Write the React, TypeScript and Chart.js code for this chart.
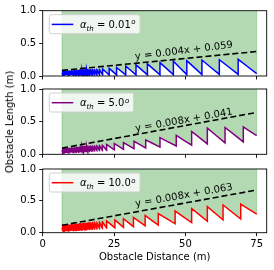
import React, { useEffect, useRef } from 'react';
import { Chart, registerables } from 'chart.js';
Chart.register(...registerables);

// ---- data ----
const xTicks = [0, 25, 50, 75];
const yTicks = [0, 0.5, 1];
const xRange = [0, 78.5];
const yRange = [0, 1];
const fillX = [6.8, 75];

const thresholds = ['0.01', '5.0', '10.0'];
const colors = ['#0000ff', '#800080', '#ff0000'];
const fitLabels = ['y = 0.004x + 0.059', 'y = 0.008x + 0.041', 'y = 0.008x + 0.063'];
const fitStart = [0.086, 0.095, 0.117];
const fitEnd = [0.375, 0.641, 0.67];
const labelX = [49.5, 49.5, 49.5];
const labelY = [0.383, 0.518, 0.582];
const labelAngle = [-7, -10, -10];

// distances where the minimum detectable length jumps (dense near the sensor)
const nearJumps = [
  7.0, 7.2, 7.4, 7.6, 7.8, 8.0, 8.2, 8.4, 8.6, 8.8, 9.0, 9.2, 9.4,
  9.6, 9.8, 10.0, 10.3, 10.6, 10.9, 11.2, 11.5, 11.8, 12.1, 12.4, 12.7, 13.0,
  13.4, 13.8, 14.2, 14.6, 15.0, 15.4, 15.8, 16.3, 16.9, 17.5, 18.2, 19.0, 19.9,
];

const jumps1 = [...nearJumps, 21.0, 23.3, 25.9, 29.1, 32.7, 36.7, 41.1, 45.8, 50.5, 55.8, 61.9, 68.5];
const lows1 = [
  0.012, 0.012, 0.012, 0.012, 0.012, 0.012, 0.012, 0.012, 0.012, 0.012, 0.012, 0.012, 0.012,
  0.012, 0.012, 0.012, 0.012, 0.012, 0.012, 0.012, 0.012, 0.012, 0.012, 0.012, 0.012, 0.012,
  0.012, 0.012, 0.012, 0.012, 0.012, 0.012, 0.012, 0.013, 0.013, 0.013, 0.013, 0.013, 0.013,
  0.014, 0.015, 0.016, 0.016, 0.017, 0.018, 0.019, 0.02, 0.021, 0.022, 0.024, 0.025,
];
const highs1 = [
  0.079, 0.079, 0.08, 0.08, 0.081, 0.081, 0.081, 0.082, 0.082, 0.083, 0.083, 0.083, 0.084,
  0.084, 0.085, 0.085, 0.086, 0.086, 0.087, 0.087, 0.088, 0.089, 0.089, 0.09, 0.09, 0.091,
  0.092, 0.093, 0.093, 0.094, 0.095, 0.096, 0.097, 0.098, 0.099, 0.1, 0.101, 0.103, 0.105,
  0.107, 0.117, 0.13, 0.15, 0.17, 0.185, 0.205, 0.225, 0.235, 0.245, 0.25, 0.255,
];
const startEnd1 = [0.05, 0.035];

const jumps2 = [...nearJumps, 20.9, 22.4, 25.1, 28.3, 32.0, 36.1, 41.1, 46.8, 52.2, 57.7, 63.9, 70.3];
const lows2 = [
  0.019, 0.019, 0.02, 0.021, 0.021, 0.022, 0.022, 0.023, 0.023, 0.024, 0.024, 0.025, 0.025,
  0.026, 0.026, 0.027, 0.028, 0.029, 0.029, 0.03, 0.031, 0.032, 0.033, 0.033, 0.034, 0.035,
  0.036, 0.037, 0.038, 0.039, 0.041, 0.042, 0.043, 0.044, 0.046, 0.047, 0.049, 0.051, 0.054,
  0.056, 0.06, 0.068, 0.076, 0.086, 0.097, 0.11, 0.127, 0.14, 0.16, 0.175, 0.19,
];
const highs2 = [
  0.09, 0.091, 0.091, 0.092, 0.093, 0.094, 0.094, 0.095, 0.096, 0.097, 0.097, 0.098, 0.099,
  0.1, 0.1, 0.101, 0.102, 0.103, 0.104, 0.106, 0.107, 0.108, 0.109, 0.11, 0.111, 0.112,
  0.114, 0.115, 0.117, 0.118, 0.12, 0.121, 0.123, 0.125, 0.127, 0.129, 0.132, 0.135, 0.138,
  0.142, 0.15, 0.165, 0.18, 0.2, 0.22, 0.255, 0.29, 0.35, 0.4, 0.41, 0.42,
];
const startEnd2 = [0.06, 0.285];

const jumps3 = [...nearJumps, 20.9, 22.4, 25.3, 28.3, 31.8, 35.9, 40.5, 46.4, 52.2, 57.7, 63.2, 69.4];
const lows3 = [
  0.021, 0.022, 0.022, 0.023, 0.023, 0.024, 0.025, 0.025, 0.026, 0.026, 0.027, 0.028, 0.028,
  0.029, 0.029, 0.03, 0.031, 0.032, 0.033, 0.034, 0.035, 0.035, 0.036, 0.037, 0.038, 0.039,
  0.04, 0.041, 0.043, 0.044, 0.045, 0.046, 0.047, 0.049, 0.051, 0.053, 0.055, 0.057, 0.06,
  0.062, 0.067, 0.076, 0.085, 0.095, 0.108, 0.12, 0.14, 0.16, 0.18, 0.2, 0.215,
];
const highs3 = [
  0.118, 0.119, 0.12, 0.12, 0.121, 0.122, 0.123, 0.124, 0.124, 0.125, 0.126, 0.127, 0.128,
  0.128, 0.129, 0.13, 0.131, 0.132, 0.134, 0.135, 0.136, 0.137, 0.138, 0.14, 0.141, 0.142,
  0.144, 0.145, 0.147, 0.148, 0.15, 0.152, 0.153, 0.155, 0.158, 0.16, 0.163, 0.166, 0.17,
  0.175, 0.185, 0.2, 0.22, 0.24, 0.27, 0.3, 0.34, 0.38, 0.41, 0.435, 0.45,
];
const startEnd3 = [0.08, 0.29];

const allJumps = [jumps1, jumps2, jumps3];
const allLows = [lows1, lows2, lows3];
const allHighs = [highs1, highs2, highs3];
const allStartEnd = [startEnd1, startEnd2, startEnd3];

function sawtooth(i: number) {
  const pts: { x: number; y: number }[] = [{ x: fillX[0], y: allStartEnd[i][0] }];
  allJumps[i].forEach((j, k) => {
    pts.push({ x: j, y: allLows[i][k] });
    pts.push({ x: j, y: allHighs[i][k] });
  });
  pts.push({ x: fillX[1], y: allStartEnd[i][1] });
  return pts;
}

const FONT = '"DejaVu Sans", sans-serif';

// ---- layout ----
const canvasTop = [0, 80, 160];
const canvasH = [86, 86, 110];
const padTop = [10.7, 9, 7.3];
const xH = [10, 11.7, 37.3];
const AXIS_LEFT = 42.7;
const PAD_RIGHT = 7.3;

const decor = {
  id: 'decor',
  beforeDatasetsDraw(chart: any, _a: any, opts: any) {
    const { ctx, scales: { x, y } } = chart;
    ctx.save();
    ctx.strokeStyle = 'rgba(0,128,0,0.3)';
    ctx.lineWidth = 1;
    const se = allStartEnd[opts.i];
    [[fillX[0], se[0]], [fillX[1], se[1]]].forEach(([xv, yv]) => {
      const px = x.getPixelForValue(xv);
      ctx.beginPath();
      ctx.moveTo(px, y.getPixelForValue(yv));
      ctx.lineTo(px, y.getPixelForValue(yRange[1]));
      ctx.stroke();
    });
    ctx.restore();
  },
  afterDraw(chart: any, _a: any, opts: any) {
    const { ctx, chartArea: a, scales: { x, y } } = chart;
    const i = opts.i;
    ctx.save();
    // spines
    ctx.strokeStyle = '#000';
    ctx.lineWidth = 0.9;
    ctx.strokeRect(a.left, a.top, a.right - a.left, a.bottom - a.top);
    // fit label
    ctx.save();
    ctx.font = `10px ${FONT}`;
    ctx.fillStyle = '#000';
    ctx.textAlign = 'center';
    ctx.textBaseline = 'middle';
    ctx.translate(x.getPixelForValue(labelX[i]), y.getPixelForValue(labelY[i]));
    ctx.rotate((labelAngle[i] * Math.PI) / 180);
    ctx.fillText(fitLabels[i], 0, 0);
    ctx.restore();
    // legend
    const bx = a.left + 6.6;
    const by = a.top + 4;
    ctx.font = `italic 10px ${FONT}`;
    const wA = ctx.measureText('α').width;
    ctx.font = `italic 7px ${FONT}`;
    const wSub = ctx.measureText('th').width;
    ctx.font = `10px ${FONT}`;
    const mid = ' = ' + thresholds[i];
    const wMid = ctx.measureText(mid).width;
    ctx.font = `italic 7px ${FONT}`;
    const wSup = ctx.measureText('o').width;
    const w = 30.7 + wA + wSub + wMid + wSup + 5;
    const h = 19;
    ctx.beginPath();
    if ((ctx as any).roundRect) (ctx as any).roundRect(bx, by, w, h, 2);
    else ctx.rect(bx, by, w, h);
    ctx.fillStyle = 'rgba(255,255,255,0.8)';
    ctx.fill();
    ctx.strokeStyle = '#d0d0d0';
    ctx.lineWidth = 1;
    ctx.stroke();
    const cy = by + 9.7;
    ctx.strokeStyle = colors[i];
    ctx.lineWidth = 1.5;
    ctx.beginPath();
    ctx.moveTo(bx + 2.4, cy);
    ctx.lineTo(bx + 24, cy);
    ctx.stroke();
    const base = cy + 3.6;
    let tx = bx + 30.7;
    ctx.fillStyle = '#000';
    ctx.textAlign = 'left';
    ctx.textBaseline = 'alphabetic';
    ctx.font = `italic 10px ${FONT}`;
    ctx.fillText('α', tx, base);
    tx += wA;
    ctx.font = `italic 7px ${FONT}`;
    ctx.fillText('th', tx, base + 2.5);
    tx += wSub;
    ctx.font = `10px ${FONT}`;
    ctx.fillText(mid, tx, base);
    tx += wMid;
    ctx.font = `italic 7px ${FONT}`;
    ctx.fillText('o', tx + 0.5, base - 3.8);
    ctx.restore();
  },
};

function Panel({ i }: { i: number }) {
  const ref = useRef<HTMLCanvasElement>(null);
  useEffect(() => {
    if (!ref.current) return;
    const chart = new Chart(ref.current, {
      type: 'scatter',
      data: {
        datasets: [
          {
            data: [{ x: fillX[0], y: fitStart[i] }, { x: fillX[1], y: fitEnd[i] }],
            showLine: true,
            borderColor: '#000',
            borderWidth: 1.6,
            borderDash: [6, 3],
            pointRadius: 0,
            fill: false,
            order: 0,
          } as any,
          {
            data: sawtooth(i),
            showLine: true,
            borderColor: colors[i],
            borderWidth: 1.5,
            borderJoinStyle: 'miter',
            pointRadius: 0,
            tension: 0.00001,
            fill: 'end',
            backgroundColor: 'rgba(0,128,0,0.3)',
            order: 1,
          } as any,
        ],
      },
      options: {
        animation: false,
        responsive: false,
        devicePixelRatio: 1,
        layout: { padding: { left: 0, right: PAD_RIGHT, top: padTop[i], bottom: 0 } },
        plugins: {
          legend: { display: false },
          tooltip: { enabled: false },
          decor: { i },
        } as any,
        scales: {
          x: {
            type: 'linear',
            min: xRange[0],
            max: xRange[1],
            afterBuildTicks: (s: any) => {
              s.ticks = xTicks.map((v) => ({ value: v }));
            },
            afterFit: (s: any) => {
              s.height = xH[i];
            },
            grid: { drawOnChartArea: false, drawTicks: true, tickLength: 3.5, color: '#000', tickWidth: 0.9 } as any,
            border: { display: false },
            ticks: {
              display: i === 2,
              padding: 2,
              color: '#000',
              font: { family: FONT, size: 10 },
              maxRotation: 0,
              autoSkip: false,
              callback: (v: any) => String(v),
            },
          },
          y: {
            type: 'linear',
            min: yRange[0],
            max: yRange[1],
            afterBuildTicks: (s: any) => {
              s.ticks = yTicks.map((v) => ({ value: v }));
            },
            afterFit: (s: any) => {
              s.width = AXIS_LEFT;
            },
            grid: { drawOnChartArea: false, drawTicks: true, tickLength: 3.5, color: '#000', tickWidth: 0.9 } as any,
            border: { display: false },
            ticks: {
              padding: 3,
              color: '#000',
              font: { family: FONT, size: 10 },
              autoSkip: false,
              callback: (v: any) => Number(v).toFixed(1),
            },
          },
        },
      },
      plugins: [decor as any],
    });
    return () => chart.destroy();
  }, [i]);
  return (
    <canvas
      ref={ref}
      width={274}
      height={canvasH[i]}
      style={{ position: 'absolute', left: 0, top: canvasTop[i], width: 274, height: canvasH[i] }}
    />
  );
}

export default function App() {
  return (
    <div style={{ position: 'fixed', left: 0, top: 0, width: 274, height: 270, background: '#fff', overflow: 'hidden' }}>
      <Panel i={0} />
      <Panel i={1} />
      <Panel i={2} />
      <div
        style={{
          position: 'absolute',
          left: 10,
          top: 121.7,
          transform: 'translate(-50%, -50%) rotate(-90deg)',
          whiteSpace: 'nowrap',
          fontFamily: FONT,
          fontSize: 10,
          lineHeight: '12px',
          color: '#000',
        }}
      >
        Obstacle Length (m)
      </div>
      <div
        style={{
          position: 'absolute',
          left: 154.7,
          top: 256.7,
          transform: 'translate(-50%, -50%)',
          whiteSpace: 'nowrap',
          fontFamily: FONT,
          fontSize: 10,
          lineHeight: '12px',
          color: '#000',
        }}
      >
        Obstacle Distance (m)
      </div>
    </div>
  );
}
